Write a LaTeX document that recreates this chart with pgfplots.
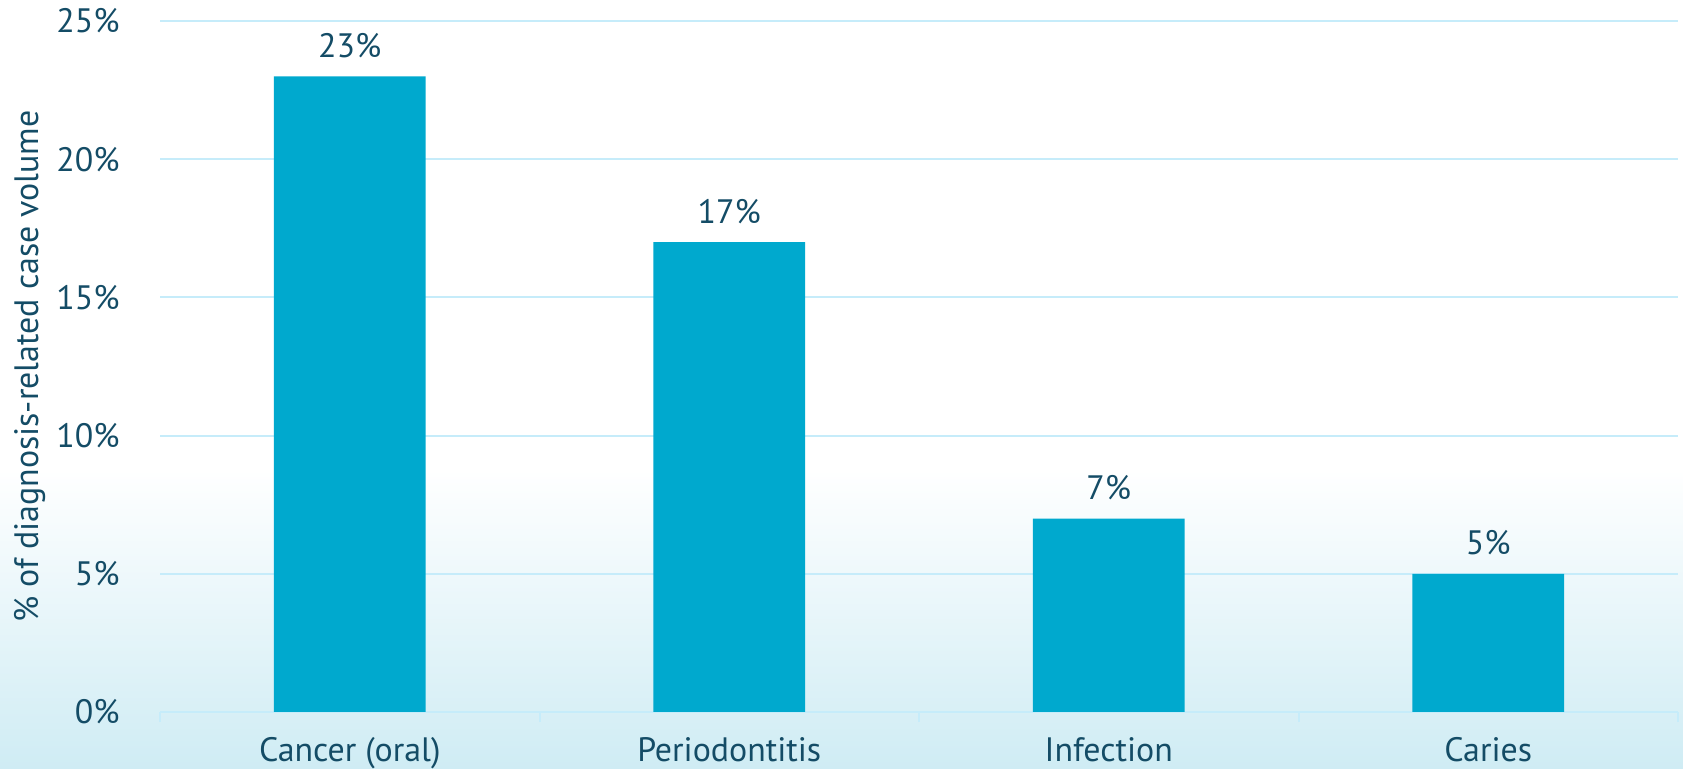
\documentclass[border=0pt]{standalone}
\usepackage{fontspec}
\setmainfont{PT Sans}
\usepackage{pgfplots}
\pgfplotsset{compat=1.18}

\definecolor{barblue}{RGB}{0,169,206}
\definecolor{textblue}{RGB}{20,76,102}
\definecolor{gridblue}{RGB}{198,236,250}
\definecolor{bgblue}{RGB}{207,236,244}

\newcommand{\lblfont}{\fontsize{17}{20}\selectfont}

\begin{document}
\begin{tikzpicture}
\path[use as bounding box] (0,0) rectangle (841.5bp,384.5bp);
\fill[white] (0,0) rectangle (841.5bp,384.5bp);
\shade[top color=white, bottom color=bgblue] (0,0) rectangle (841.5bp,150bp);
\begin{axis}[
    at={(80bp,28.5bp)}, anchor=south west,
    scale only axis,
    width=759bp, height=345.5bp,
    xmin=-0.5, xmax=3.5,
    ymin=0, ymax=25,
    ybar, bar width=0.4,
    /pgf/number format/assume math mode=true,
    % ticks sit on the category borders, labels are moved to the centres
    xtick={-0.5,0.5,1.5,2.5,3.5},
    xticklabels={Cancer (oral),Periodontitis,Infection,Caries,{}},
    xtick pos=bottom, ytick pos=left,
    ytick={0,5,...,25},
    yticklabel={\pgfmathprintnumber{\tick}\%},
    major tick length=5bp,
    tick align=outside,
    xtick style={draw=gridblue, line width=1bp},
    ytick style={draw=none},
    ymajorgrids,
    grid style={draw=gridblue, line width=1bp},
    axis line style={draw=none},
    tick label style={font=\lblfont, text=textblue},
    yticklabel style={anchor=east, inner sep=0pt, xshift=-15bp},
    xticklabel style={anchor=north, inner sep=0pt, yshift=-7.5bp, xshift=94.875bp},
    ylabel={\% of diagnosis-related case volume},
    ylabel style={at={(axis description cs:-0.0856,0.5)}, anchor=center, font=\lblfont, text=textblue},
    nodes near coords={\pgfmathprintnumber{\pgfplotspointmeta}\%},
    nodes near coords style={anchor=base, inner sep=0pt, yshift=9.5bp, font=\lblfont, text=textblue},
]
\addplot[fill=barblue, draw=none] coordinates {(0,23) (1,17) (2,7) (3,5)};
\end{axis}
\end{tikzpicture}
\end{document}
